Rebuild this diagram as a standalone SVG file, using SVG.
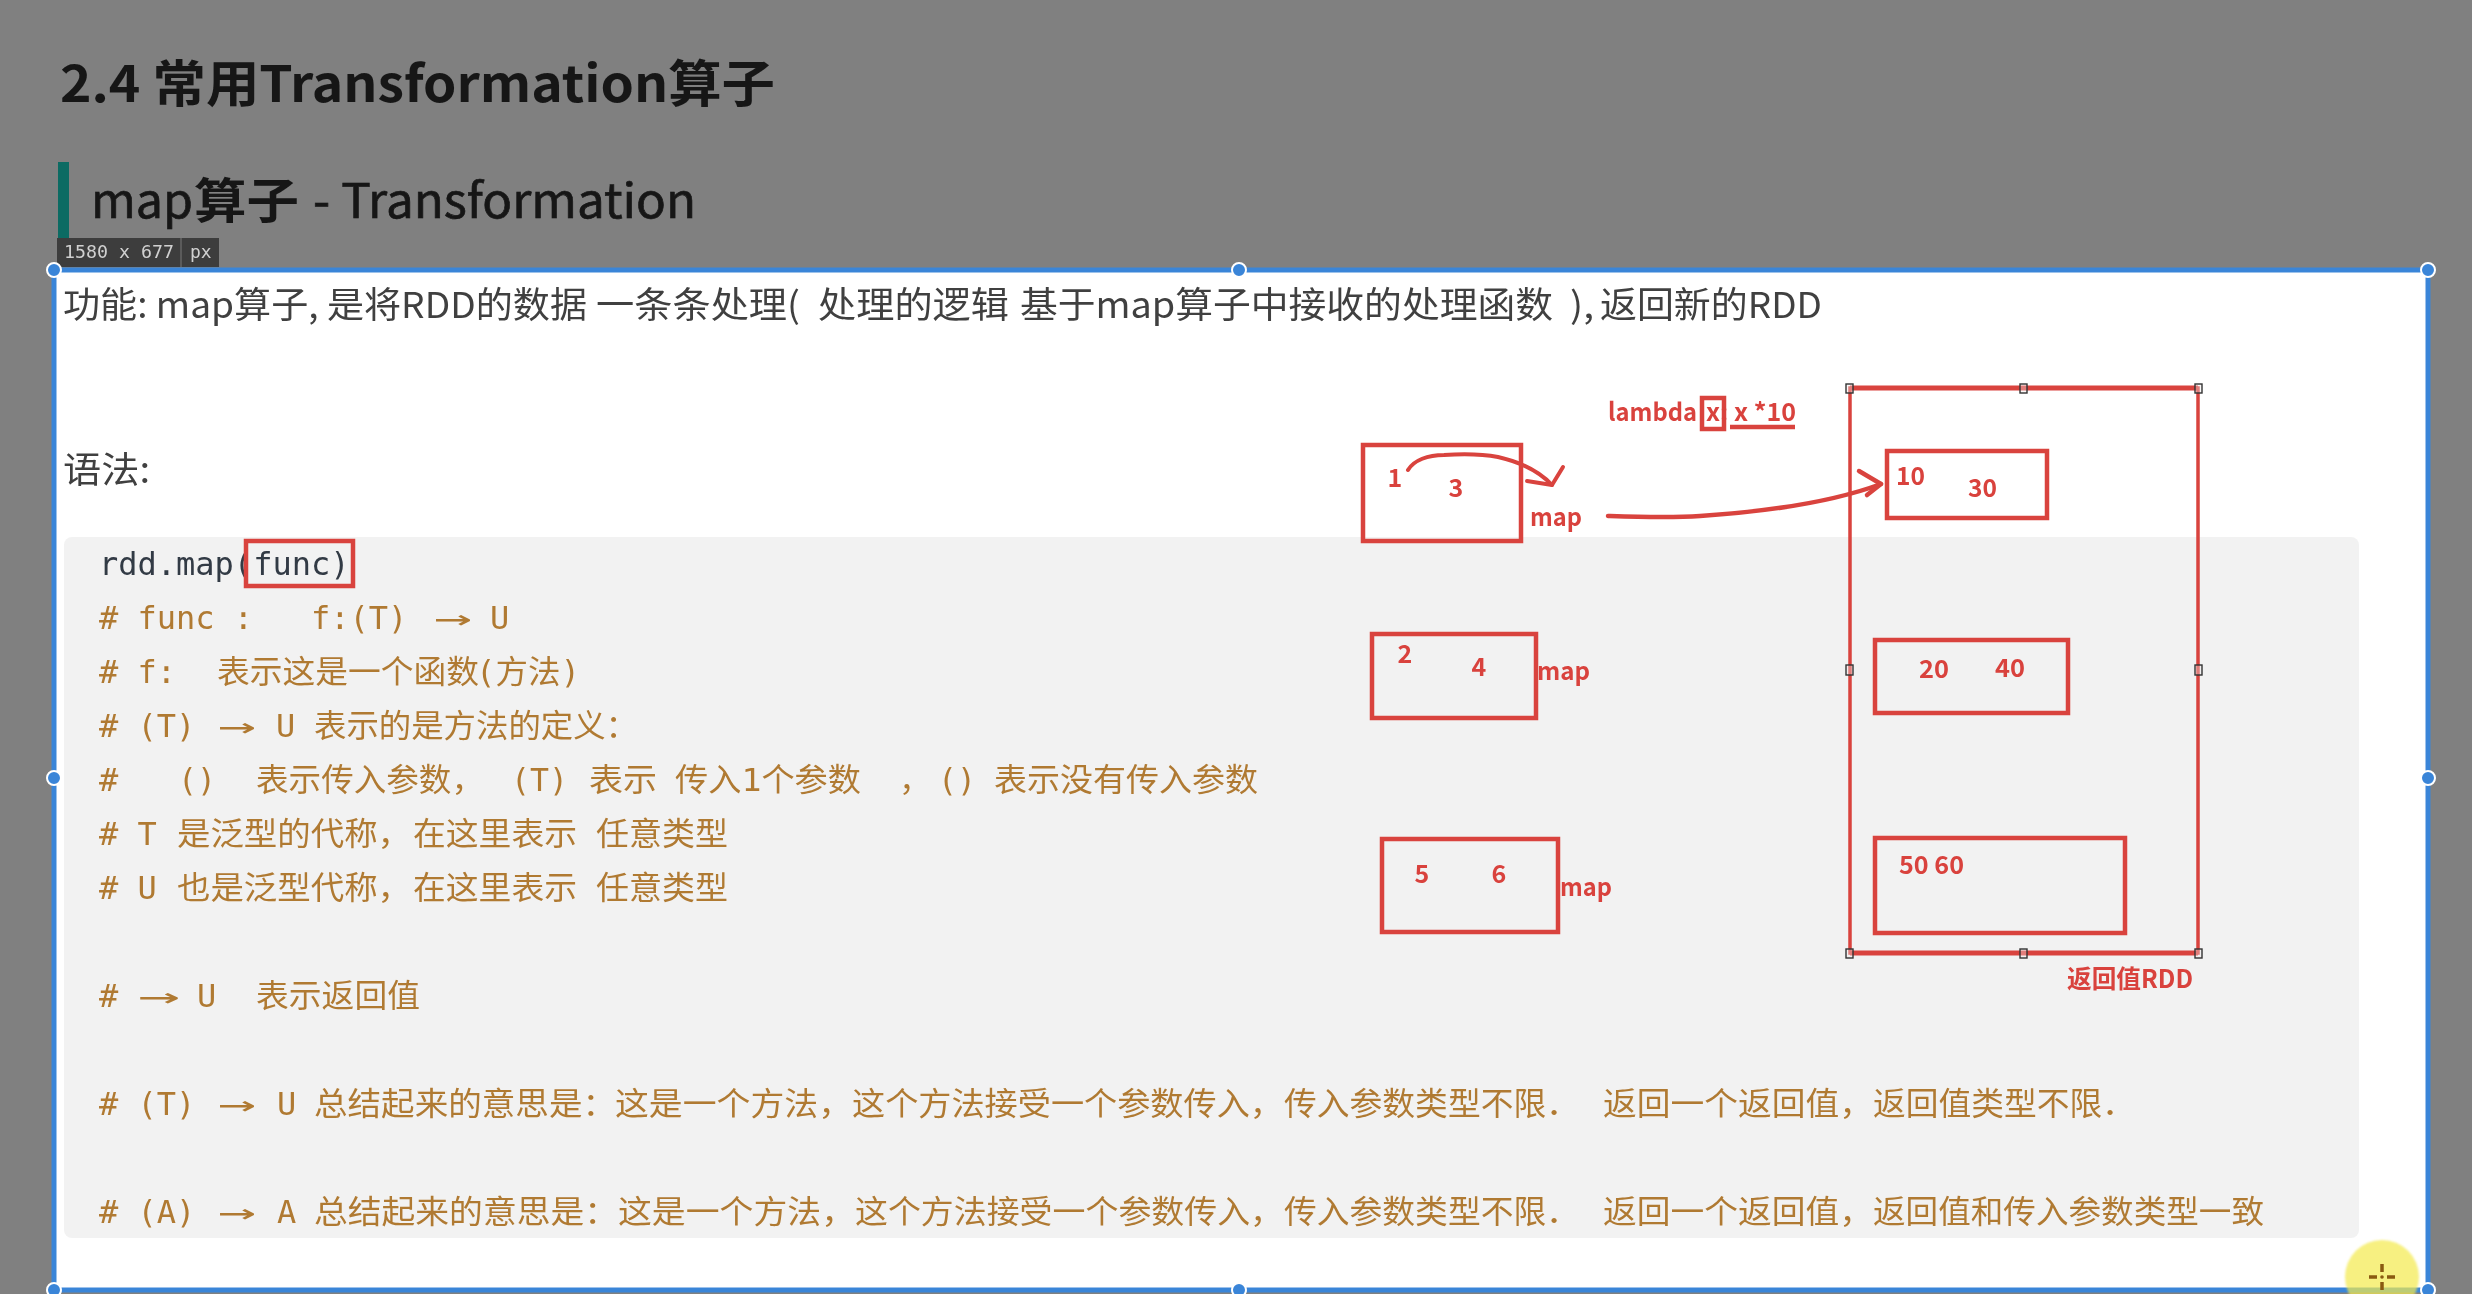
<svg xmlns="http://www.w3.org/2000/svg" width="2472" height="1294" viewBox="0 0 2472 1294">
<defs>
<filter id="soft" x="-5%" y="-5%" width="110%" height="110%"><feGaussianBlur stdDeviation="0.55"/></filter>
<filter id="soft2" x="-20%" y="-20%" width="140%" height="140%"><feGaussianBlur stdDeviation="1.2"/></filter>
</defs>
<style>
text{font-family:"Noto Sans CJK SC","Noto Sans",sans-serif;filter:url(#soft)}
.h{fill:#161616;font-size:50px;font-weight:700}
.h2{fill:#161616;font-size:48px}
.p{fill:#404040;font-size:36px}
.m{font-family:"DejaVu Sans Mono","Noto Sans CJK SC",monospace;font-size:32px;fill:#b07a33}
.r{fill:none;stroke:#d9433e;stroke-width:4.5}
.l{fill:#d9433e;font-size:25px;font-weight:700}
.n{fill:#d9433e;font-size:25px;font-weight:700;text-anchor:middle}
.hd{fill:#f4eeee;fill-opacity:.35;stroke:#333;stroke-width:1.4}
.g{fill:#3a85d8;stroke:#fff;stroke-width:2}
</style>
<rect width="2472" height="1294" fill="#808080"/>
<g id="title">
<text class="h" x="60" y="102" textLength="715" lengthAdjust="spacingAndGlyphs">2.4 常用Transformation算子</text>
</g>
<g id="subtitle">
<rect x="58" y="162" width="11" height="77" fill="#0c6b63"/>
<text class="h2" x="91" y="218" textLength="102" lengthAdjust="spacingAndGlyphs" style="stroke:#161616;stroke-width:.7">map</text>
<text class="h2" x="194" y="218" textLength="105" lengthAdjust="spacingAndGlyphs" style="font-weight:700">算子</text>
<text class="h2" x="313" y="218" textLength="383" lengthAdjust="spacingAndGlyphs" style="stroke:#161616;stroke-width:.7">- Transformation</text>
</g>
<g id="size-tag">
<rect x="57" y="238" width="162" height="29" fill="#3d3d3d"/>
<line x1="181" y1="238" x2="181" y2="267" stroke="#666" stroke-width="1.5"/>
<text x="64" y="258" textLength="110" lengthAdjust="spacingAndGlyphs" style="font-family:'DejaVu Sans Mono',monospace;font-size:18px;fill:#d0d0d0">1580 x 677</text>
<text x="190" y="258" style="font-family:'DejaVu Sans Mono',monospace;font-size:18px;fill:#d0d0d0">px</text>
</g>
<g id="panel">
<rect x="54" y="270" width="2374" height="1020" fill="#fff" stroke="#3a85d8" stroke-width="5"/>
<text class="p" x="63" y="318" textLength="524" lengthAdjust="spacingAndGlyphs">功能: map算子, 是将RDD的数据</text>
<text class="p" x="596" y="318" textLength="204" lengthAdjust="spacingAndGlyphs">一条条处理(</text>
<text class="p" x="818" y="318" textLength="191" lengthAdjust="spacingAndGlyphs">处理的逻辑</text>
<text class="p" x="1020" y="318" textLength="533" lengthAdjust="spacingAndGlyphs">基于map算子中接收的处理函数</text>
<text class="p" x="1570" y="318" textLength="24" lengthAdjust="spacingAndGlyphs">),</text>
<text class="p" x="1600" y="318" textLength="222" lengthAdjust="spacingAndGlyphs">返回新的RDD</text>
<text class="p" x="63" y="483" textLength="87" lengthAdjust="spacingAndGlyphs">语法:</text>
</g>
<g id="code">
<rect x="64" y="537" width="2295" height="701" rx="8" fill="#f2f2f2"/>
<text class="m" x="99" y="575" style="fill:#333a45" xml:space="preserve">rdd.map(func)</text>

<text class="m" x="99" y="629" xml:space="preserve"># func :   f:(T)</text>
<text class="m" x="434" y="629" textLength="38" lengthAdjust="spacingAndGlyphs">→</text>
<text class="m" x="490" y="629">U</text>

<text class="m" x="99" y="683" xml:space="preserve"># f:</text>
<text class="m" x="217" y="683" textLength="262" lengthAdjust="spacingAndGlyphs">表示这是一个函数</text>
<text class="m" x="476" y="683" textLength="104" lengthAdjust="spacingAndGlyphs">(方法)</text>

<text class="m" x="99" y="737" xml:space="preserve"># (T)</text>
<text class="m" x="218" y="737" textLength="38" lengthAdjust="spacingAndGlyphs">→</text>
<text class="m" x="276" y="737">U</text>
<text class="m" x="314" y="737" textLength="324" lengthAdjust="spacingAndGlyphs">表示的是方法的定义：</text>

<text class="m" x="99" y="791">#</text>
<text class="m" x="178" y="791" textLength="38" lengthAdjust="spacingAndGlyphs">()</text>
<text class="m" x="256" y="791" textLength="228" lengthAdjust="spacingAndGlyphs">表示传入参数，</text>
<text class="m" x="511" y="791" textLength="57" lengthAdjust="spacingAndGlyphs">(T)</text>
<text class="m" x="589" y="791" textLength="68" lengthAdjust="spacingAndGlyphs">表示</text>
<text class="m" x="675" y="791" textLength="186" lengthAdjust="spacingAndGlyphs">传入1个参数</text>
<text class="m" x="899" y="791">，</text>
<text class="m" x="938" y="791" textLength="38" lengthAdjust="spacingAndGlyphs">()</text>
<text class="m" x="994" y="791" textLength="264" lengthAdjust="spacingAndGlyphs">表示没有传入参数</text>

<text class="m" x="99" y="845" xml:space="preserve"># T</text>
<text class="m" x="177" y="845" textLength="234" lengthAdjust="spacingAndGlyphs">是泛型的代称，</text>
<text class="m" x="413" y="845" textLength="164" lengthAdjust="spacingAndGlyphs">在这里表示</text>
<text class="m" x="596" y="845" textLength="132" lengthAdjust="spacingAndGlyphs">任意类型</text>

<text class="m" x="99" y="899" xml:space="preserve"># U</text>
<text class="m" x="177" y="899" textLength="234" lengthAdjust="spacingAndGlyphs">也是泛型代称，</text>
<text class="m" x="413" y="899" textLength="164" lengthAdjust="spacingAndGlyphs">在这里表示</text>
<text class="m" x="596" y="899" textLength="132" lengthAdjust="spacingAndGlyphs">任意类型</text>

<text class="m" x="99" y="1007">#</text>
<text class="m" x="138" y="1007" textLength="42" lengthAdjust="spacingAndGlyphs">→</text>
<text class="m" x="197" y="1007">U</text>
<text class="m" x="256" y="1007" textLength="164" lengthAdjust="spacingAndGlyphs">表示返回值</text>

<text class="m" x="99" y="1115" xml:space="preserve"># (T)</text>
<text class="m" x="218" y="1115" textLength="38" lengthAdjust="spacingAndGlyphs">→</text>
<text class="m" x="277" y="1115">U</text>
<text class="m" x="314" y="1115" textLength="302" lengthAdjust="spacingAndGlyphs">总结起来的意思是：</text>
<text class="m" x="615" y="1115" textLength="237" lengthAdjust="spacingAndGlyphs">这是一个方法，</text>
<text class="m" x="852" y="1115" textLength="431" lengthAdjust="spacingAndGlyphs">这个方法接受一个参数传入，</text>
<text class="m" x="1284" y="1115" textLength="295" lengthAdjust="spacingAndGlyphs">传入参数类型不限．</text>
<text class="m" x="1603" y="1115" textLength="270" lengthAdjust="spacingAndGlyphs">返回一个返回值，</text>
<text class="m" x="1873" y="1115" textLength="262" lengthAdjust="spacingAndGlyphs">返回值类型不限．</text>

<text class="m" x="99" y="1223" xml:space="preserve"># (A)</text>
<text class="m" x="218" y="1223" textLength="38" lengthAdjust="spacingAndGlyphs">→</text>
<text class="m" x="277" y="1223">A</text>
<text class="m" x="314" y="1223" textLength="304" lengthAdjust="spacingAndGlyphs">总结起来的意思是：</text>
<text class="m" x="618" y="1223" textLength="237" lengthAdjust="spacingAndGlyphs">这是一个方法，</text>
<text class="m" x="855" y="1223" textLength="428" lengthAdjust="spacingAndGlyphs">这个方法接受一个参数传入，</text>
<text class="m" x="1284" y="1223" textLength="295" lengthAdjust="spacingAndGlyphs">传入参数类型不限．</text>
<text class="m" x="1603" y="1223" textLength="270" lengthAdjust="spacingAndGlyphs">返回一个返回值，</text>
<text class="m" x="1873" y="1223" textLength="391" lengthAdjust="spacingAndGlyphs">返回值和传入参数类型一致</text>
</g>
<g id="panel-handles">
<circle class="g" cx="54" cy="270" r="7"/><circle class="g" cx="1239" cy="270" r="7"/><circle class="g" cx="2428" cy="270" r="7"/>
<circle class="g" cx="54" cy="778" r="7"/><circle class="g" cx="2428" cy="778" r="7"/>
<circle class="g" cx="54" cy="1290" r="7"/><circle class="g" cx="1239" cy="1290" r="7"/><circle class="g" cx="2428" cy="1290" r="7"/>
</g>
<g id="func-box"><rect class="r" x="246" y="541" width="107" height="45"/></g>
<g id="lambda">
<text class="l" x="1608" y="421" textLength="89" lengthAdjust="spacingAndGlyphs">lambda</text>
<rect class="r" x="1702" y="398" width="22" height="31"/>
<text class="l" x="1706" y="421">x:</text>
<text class="l" x="1734" y="421" textLength="62" lengthAdjust="spacingAndGlyphs">x *10</text>
<line class="r" x1="1730" y1="427" x2="1795" y2="427"/>
</g>
<g id="input-1">
<rect class="r" x="1363" y="445" width="158" height="96"/>
<text class="n" x="1395" y="487">1</text><text class="n" x="1456" y="497">3</text>
<text class="l" x="1530" y="526" textLength="52" lengthAdjust="spacingAndGlyphs">map</text>
</g>
<g id="input-2">
<rect class="r" x="1372" y="634" width="164" height="84"/>
<text class="n" x="1405" y="663">2</text><text class="n" x="1479" y="676">4</text>
<text class="l" x="1537" y="680" textLength="53" lengthAdjust="spacingAndGlyphs">map</text>
</g>
<g id="input-3">
<rect class="r" x="1382" y="839" width="176" height="93"/>
<text class="n" x="1422" y="883">5</text><text class="n" x="1499" y="883">6</text>
<text class="l" x="1560" y="896" textLength="52" lengthAdjust="spacingAndGlyphs">map</text>
</g>
<g id="result-rdd">
<rect class="r" x="1850" y="388" width="348" height="565" style="stroke-width:3.5"/>
<path class="r" d="M1850 388H2198M1850 953H2198" style="stroke-width:5"/>
<g>
<rect class="hd" x="1846" y="384" width="7" height="9"/><rect class="hd" x="2020" y="384" width="7" height="9"/><rect class="hd" x="2195" y="384" width="7" height="9"/>
<rect class="hd" x="1846" y="665" width="7" height="10"/><rect class="hd" x="2195" y="665" width="7" height="10"/>
<rect class="hd" x="1846" y="949" width="7" height="9"/><rect class="hd" x="2020" y="949" width="7" height="9"/><rect class="hd" x="2195" y="949" width="7" height="9"/>
</g>
<text class="l" x="2067" y="988" textLength="126" lengthAdjust="spacingAndGlyphs">返回值RDD</text>
</g>
<g id="output-1">
<rect class="r" x="1887" y="451" width="160" height="67"/>
<text class="l" x="1896" y="485" textLength="29" lengthAdjust="spacingAndGlyphs">10</text><text class="l" x="1968" y="497" textLength="29" lengthAdjust="spacingAndGlyphs">30</text>
</g>
<g id="output-2">
<rect class="r" x="1875" y="640" width="193" height="73"/>
<text class="l" x="1919" y="678" textLength="30" lengthAdjust="spacingAndGlyphs">20</text><text class="l" x="1995" y="677" textLength="30" lengthAdjust="spacingAndGlyphs">40</text>
</g>
<g id="output-3">
<rect class="r" x="1875" y="838" width="250" height="95"/>
<text class="l" x="1899" y="874" textLength="65" lengthAdjust="spacingAndGlyphs">50 60</text>
</g>
<g id="connectors" fill="none" stroke="#d9433e" stroke-width="4" stroke-linecap="round" stroke-linejoin="round">
<path d="M1408 470C1414 460 1428 455 1444 455C1460 454 1482 454 1498 457C1520 462 1538 470 1552 485"/>
<path d="M1527 481L1552 485L1563 467"/>
<path d="M1608 516C1640 517 1670 518 1700 516C1760 512 1830 503 1881 484" stroke-width="4.5"/>
<path d="M1859 471L1881 484L1867 495" stroke-width="4.5"/>
</g>
<g id="cursor">
<circle cx="2382" cy="1277" r="37" fill="#f4e94c" fill-opacity=".7" filter="url(#soft2)"/>
<path d="M2369 1277h8M2387 1277h8M2382 1264v8M2382 1282v8" stroke="#8a5a10" stroke-width="3.5" fill="none"/>
<circle cx="2382" cy="1277" r="1.8" fill="#8a5a10"/>
</g>
</svg>
